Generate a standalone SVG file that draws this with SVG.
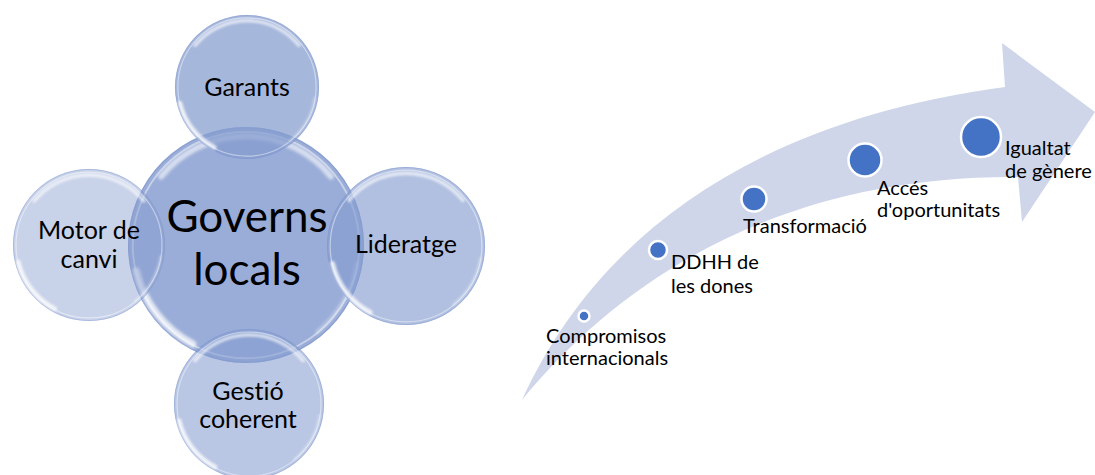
<svg xmlns="http://www.w3.org/2000/svg" width="1095" height="475" viewBox="0 0 1095 475">
  <style>
    .lbl { font-family: Lato, "Open Sans", "Liberation Sans", sans-serif; fill: #000; font-variant-ligatures: none; }
    .sat { font-size: 25px; text-anchor: middle; }
    .hub { font-size: 44px; text-anchor: middle; }
    .step { font-size: 20px; }
    .ball { fill: #849bcf; }
    .dot { fill: #4472c4; stroke: #ffffff; stroke-width: 2.5; }
  </style>
  <defs>
    <filter id="soft" x="-20%" y="-20%" width="140%" height="140%">
      <feGaussianBlur stdDeviation="1.2"/>
    </filter>
    <!-- glassy rim and highlights of a bubble of radius 100, centred on the origin -->
    <g id="gloss">
      <circle r="99.5" fill="none" stroke="#7d95cc" stroke-opacity="0.55" stroke-width="1"/>
      <circle r="96" fill="none" stroke="#ffffff" stroke-opacity="0.45" stroke-width="1.6"/>
      <path d="M -72 -58 A 93 93 0 0 1 72 -58" fill="none" stroke="#ffffff" stroke-opacity="0.6" stroke-width="5" stroke-linecap="round" filter="url(#soft)"/>
      <path d="M -93 22 A 95 95 0 0 0 -45 84" fill="none" stroke="#ffffff" stroke-opacity="0.75" stroke-width="6" stroke-linecap="round" filter="url(#soft)"/>
      <path d="M 60 74 A 95 95 0 0 0 94 15" fill="none" stroke="#ffffff" stroke-opacity="0.35" stroke-width="3" stroke-linecap="round" filter="url(#soft)"/>
    </g>
  </defs>

  <!-- left: local governments and their four roles -->
  <g id="hub">
    <circle class="ball" cx="246" cy="245" r="118" fill-opacity="0.82"/>
    <use href="#gloss" transform="translate(246 245) scale(1.18)"/>
  </g>
  <g id="garants">
    <circle class="ball" cx="247" cy="87" r="72" fill-opacity="0.72"/>
    <use href="#gloss" transform="translate(247 87) scale(0.72)"/>
  </g>
  <g id="motor">
    <circle class="ball" cx="89" cy="245" r="76" fill-opacity="0.45"/>
    <use href="#gloss" transform="translate(89 245) scale(0.76)"/>
  </g>
  <g id="lideratge">
    <circle class="ball" cx="406" cy="246" r="79" fill-opacity="0.63"/>
    <use href="#gloss" transform="translate(406 246) scale(0.79)"/>
  </g>
  <g id="gestio">
    <circle class="ball" cx="249" cy="404" r="75" fill-opacity="0.57"/>
    <use href="#gloss" transform="translate(249 404) scale(0.75)"/>
  </g>

  <g id="labels-left" class="lbl">
    <text class="hub" x="247" y="232">Governs</text>
    <text class="hub" x="247" y="285">locals</text>
    <text class="sat" x="247" y="96">Garants</text>
    <text class="sat" x="89" y="239">Motor de</text>
    <text class="sat" x="89" y="268">canvi</text>
    <text class="sat" x="406" y="253">Lideratge</text>
    <text class="sat" x="248" y="400">Gestió</text>
    <text class="sat" x="248" y="428">coherent</text>
  </g>

  <!-- right: curved progress arrow -->
  <g id="connectors">
    <path id="arrow" fill="#cfd6ea"
      d="M 522 400 C 600 230 760 120 1005 87 L 1002 43 L 1095 112 L 1022 222 L 1018 177 C 780 175 620 280 522 400 Z"/>
  </g>

  <g id="step-1">
    <circle class="dot" cx="584" cy="316" r="5.5"/>
    <text class="lbl step" x="546" y="343">Compromisos</text>
    <text class="lbl step" x="546" y="365">internacionals</text>
  </g>
  <g id="step-2">
    <circle class="dot" cx="658" cy="250" r="9"/>
    <text class="lbl step" x="671" y="269">DDHH de</text>
    <text class="lbl step" x="671" y="293">les dones</text>
  </g>
  <g id="step-3">
    <circle class="dot" cx="754" cy="199" r="12.5"/>
    <text class="lbl step" x="743" y="233">Transformació</text>
  </g>
  <g id="step-4">
    <circle class="dot" cx="865" cy="160" r="16.5"/>
    <text class="lbl step" x="877" y="195">Accés</text>
    <text class="lbl step" x="877" y="217">d'oportunitats</text>
  </g>
  <g id="step-5">
    <circle class="dot" cx="981" cy="137" r="20"/>
    <text class="lbl step" x="1005" y="155">Igualtat</text>
    <text class="lbl step" x="1005" y="178">de gènere</text>
  </g>
</svg>
